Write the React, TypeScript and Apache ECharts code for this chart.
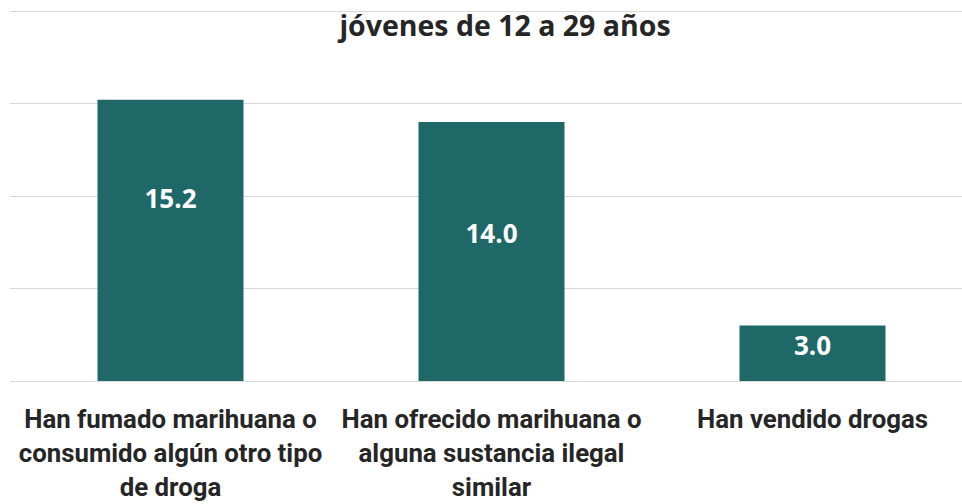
import React, { useEffect, useRef } from "react";
import * as echarts from "echarts";

const categories = [
  "Han fumado marihuana o\nconsumido algún otro tipo\nde droga",
  "Han ofrecido marihuana o\nalguna sustancia ilegal\nsimilar",
  "Han vendido drogas",
];
const values = [15.2, 14.0, 3.0];
const labelPosY = ["35%", "43%", "36%"];
const titleText = "jóvenes de 12 a 29 años";

export default function App() {
  const ref = useRef<HTMLDivElement>(null);
  useEffect(() => {
    const chart = echarts.init(ref.current!, null, { renderer: "svg" });
    chart.setOption({
      animation: false,
      backgroundColor: "#ffffff",
      title: {
        text: titleText,
        left: 500,
        textAlign: "center",
        top: 5,
        textStyle: {
          fontFamily: "Open Sans",
          fontWeight: "bold",
          fontSize: 28.5,
          color: "#262626",
        },
      },
      grid: { left: 10, top: 11, width: 963, height: 373, containLabel: false },
      xAxis: {
        type: "category",
        data: categories,
        axisLine: { show: false },
        axisTick: { show: false },
        axisLabel: {
          interval: 0,
          margin: 21,
          fontFamily: "Roboto",
          fontWeight: "bold",
          fontSize: 25.8,
          lineHeight: 34,
          color: "#262626",
        },
      },
      yAxis: {
        type: "value",
        min: 0,
        max: 20,
        interval: 5,
        axisLabel: { show: false },
        axisLine: { show: false },
        axisTick: { show: false },
        splitLine: { lineStyle: { color: "#d9d9d9", width: 1 } },
      },
      series: [
        {
          type: "bar",
          barWidth: 146,
          data: values.map((v, i) => ({
            value: v,
            label: { position: ["50%", labelPosY[i]] },
          })),
          itemStyle: { color: "#1f6868" },
          label: {
            show: true,
            formatter: (p: any) => Number(p.value).toFixed(1),
            align: "center",
            verticalAlign: "middle",
            fontFamily: "Open Sans",
            fontWeight: "bold",
            fontSize: 26,
            color: "#ffffff",
          },
        },
      ],
    });
    return () => chart.dispose();
  }, []);
  return (
    <div
      style={{
        position: "fixed",
        left: 0,
        top: 0,
        width: 962,
        height: 504,
        overflow: "hidden",
        background: "#ffffff",
      }}
    >
      <div ref={ref} style={{ width: 990, height: 504 }} />
    </div>
  );
}
